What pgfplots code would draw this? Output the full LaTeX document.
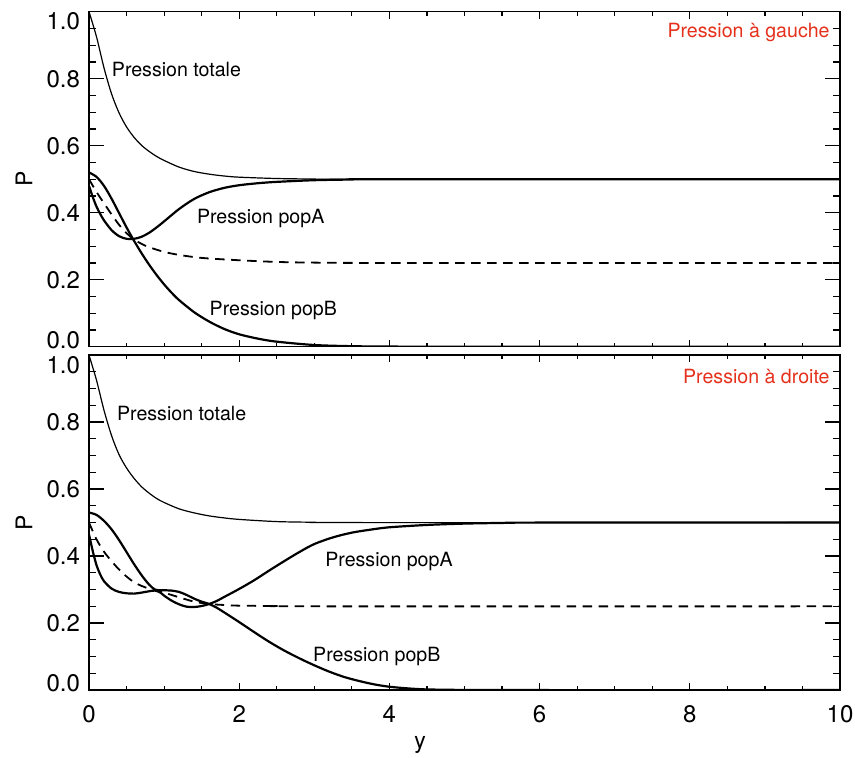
\documentclass[border=0pt]{standalone}
\usepackage{fontspec}
\setmainfont{TeX Gyre Heros}
\usepackage{pgfplots}
\pgfplotsset{compat=1.18}
\definecolor{lblred}{rgb}{0.90,0.19,0.11}

\pgfplotsset{
  panel/.style={
    scale only axis, width=375.5pt, height=167.5pt,
    xmin=0, xmax=10, ymin=0, ymax=1,
    xtick={0,2,4,6,8,10}, ytick={0,0.2,0.4,0.6,0.8,1.0},
    minor x tick num=3, minor y tick num=3,
    tick align=inside, xtick pos=both, ytick pos=both,
    axis line style={line width=0.8pt},
    every tick/.style={black, line width=0.6pt},
    major tick length=7.5pt, minor tick length=3.5pt,
    x tick style={/pgfplots/major tick length=3.5pt, /pgfplots/minor tick length=2pt},
    yticklabel={\pgfmathprintnumber[fixed,fixed zerofill,precision=1,assume math mode=true]{\tick}},
    yticklabel style={font=\fontsize{12}{14}\selectfont, anchor=east, xshift=-1.0pt,
      yshift={(\ticknum==0)*3.3-(\ticknum==5)*4.8}},
    xticklabel={\pgfmathprintnumber[assume math mode=true]{\tick}},
    xticklabel style={font=\fontsize{12}{14}\selectfont, anchor=base, yshift=-16.2pt},
    every axis y label/.style={at={(axis description cs:-0.0866,0.5)}, anchor=center, rotate=90, font=\fontsize{11.5}{14}\selectfont},
    ylabel={P},
    clip=true,
  },
  thinline/.style={black, line width=0.6pt, smooth},
  thickline/.style={black, line width=1.1pt, smooth},
  dashline/.style={black, line width=0.9pt, smooth, dash pattern=on 4.7pt off 3.3pt},
}
\tikzset{
  annot/.style={font=\fontsize{9.8}{11}\selectfont, anchor=base west, inner sep=0pt},
  redlbl/.style={font=\fontsize{9.8}{11}\selectfont, anchor=base east, inner sep=0pt, text=lblred},
}

\begin{document}
\begin{tikzpicture}
\begin{axis}[panel, name=top, xticklabels={}]
% Pression totale
\addplot[thinline] coordinates {(0,1.0)(0.1,0.925)(0.2,0.832)(0.3,0.755)(0.4,0.698)(0.5,0.656)(0.6,0.625)(0.7,0.601)(0.8,0.583)(0.9,0.568)(1.0,0.556)(1.2,0.536)(1.4,0.523)(1.6,0.515)(1.8,0.5095)(2.0,0.506)(2.5,0.502)(3,0.5005)(3.5,0.5)(10,0.5)};
% Pression popA
\addplot[thickline] coordinates {(0,0.48)(0.05,0.447)(0.1,0.418)(0.15,0.396)(0.2,0.377)(0.3,0.348)(0.4,0.330)(0.5,0.322)(0.6,0.322)(0.7,0.328)(0.8,0.340)(0.9,0.356)(1.0,0.374)(1.2,0.411)(1.4,0.441)(1.6,0.461)(1.8,0.474)(2.0,0.482)(2.25,0.488)(2.5,0.492)(3.0,0.497)(3.5,0.499)(4,0.5)(10,0.5)};
% Pression popB
\addplot[thickline] coordinates {(0,0.520)(0.1,0.507)(0.2,0.480)(0.3,0.442)(0.4,0.399)(0.5,0.356)(0.6,0.316)(0.7,0.279)(0.8,0.245)(0.9,0.214)(1.0,0.186)(1.1,0.161)(1.2,0.139)(1.4,0.103)(1.6,0.075)(1.8,0.053)(2.0,0.037)(2.25,0.024)(2.5,0.015)(3.0,0.005)(3.5,0.0015)(4,0.0004)(5,0)(10,0)};
% moyenne
\addplot[dashline] coordinates {(0,0.5)(0.1,0.462)(0.2,0.428)(0.3,0.395)(0.4,0.364)(0.5,0.339)(0.6,0.32)(0.7,0.307)(0.8,0.297)(1.0,0.283)(1.2,0.274)(1.5,0.265)(2.0,0.258)(2.5,0.253)(3,0.251)(4,0.25)(10,0.25)};
\node[annot] at (axis cs:0.30,0.806) {Pression totale};
\node[annot] at (axis cs:1.434,0.368) {Pression popA};
\node[annot] at (axis cs:1.602,0.0946) {Pression popB};
\node[redlbl] at (axis cs:9.867,0.9215) {Pression à gauche};
\end{axis}

\begin{axis}[panel, at={(top.south west)}, anchor=north west, yshift=-4.2pt,
  xlabel={y},
  every axis x label/.style={at={(axis description cs:0.441,-0.174)}, anchor=base, font=\fontsize{11.5}{14}\selectfont}]
\addplot[thinline] coordinates {(0,1.0)(0.1,0.925)(0.2,0.835)(0.3,0.760)(0.4,0.703)(0.5,0.663)(0.6,0.632)(0.7,0.607)(0.8,0.588)(0.9,0.572)(1.0,0.560)(1.2,0.541)(1.4,0.529)(1.6,0.520)(1.8,0.514)(2.0,0.5095)(2.5,0.503)(3,0.501)(3.5,0.5)(10,0.5)};
\addplot[thickline] coordinates {(0,0.465)(0.05,0.415)(0.1,0.373)(0.15,0.345)(0.2,0.325)(0.3,0.303)(0.4,0.293)(0.5,0.289)(0.6,0.288)(0.7,0.291)(0.8,0.295)(0.88,0.297)(0.95,0.291)(1.0,0.282)(1.1,0.267)(1.2,0.256)(1.3,0.249)(1.4,0.248)(1.5,0.251)(1.6,0.257)(1.7,0.266)(1.8,0.278)(2.0,0.302)(2.2,0.328)(2.4,0.357)(2.6,0.385)(2.8,0.412)(3.0,0.436)(3.25,0.456)(3.5,0.47)(3.75,0.479)(4.0,0.486)(4.5,0.493)(5,0.497)(5.5,0.499)(6,0.5)(10,0.5)};
\addplot[thickline] coordinates {(0,0.53)(0.1,0.523)(0.2,0.505)(0.3,0.48)(0.4,0.448)(0.5,0.412)(0.6,0.376)(0.7,0.343)(0.8,0.315)(0.88,0.300)(0.95,0.298)(1.0,0.298)(1.1,0.297)(1.2,0.293)(1.3,0.284)(1.4,0.273)(1.5,0.264)(1.6,0.257)(1.7,0.246)(1.8,0.232)(2.0,0.203)(2.2,0.173)(2.4,0.144)(2.6,0.118)(2.8,0.095)(3.0,0.074)(3.2,0.055)(3.4,0.039)(3.6,0.027)(3.8,0.017)(4.0,0.010)(4.25,0.005)(4.5,0.002)(5,0.0005)(6,0)(10,0)};
\addplot[dashline] coordinates {(0,0.5)(0.1,0.45)(0.2,0.413)(0.3,0.385)(0.4,0.36)(0.5,0.339)(0.6,0.322)(0.7,0.311)(0.8,0.303)(0.9,0.298)(1.0,0.291)(1.2,0.277)(1.4,0.264)(1.6,0.257)(1.8,0.254)(2.0,0.252)(2.5,0.251)(3,0.25)(10,0.25)};
\node[annot] at (axis cs:0.369,0.804) {Pression totale};
\node[annot] at (axis cs:3.142,0.369) {Pression popA};
\node[annot] at (axis cs:2.98,0.0864) {Pression popB};
\node[redlbl] at (axis cs:9.867,0.915) {Pression à droite};
\end{axis}
\pgfresetboundingbox
\path[use as bounding box] ([xshift=-44.5pt,yshift=5.85pt]top.north west) rectangle ([xshift=383pt,yshift=-373.15pt]top.north west);
\end{tikzpicture}
\end{document}
